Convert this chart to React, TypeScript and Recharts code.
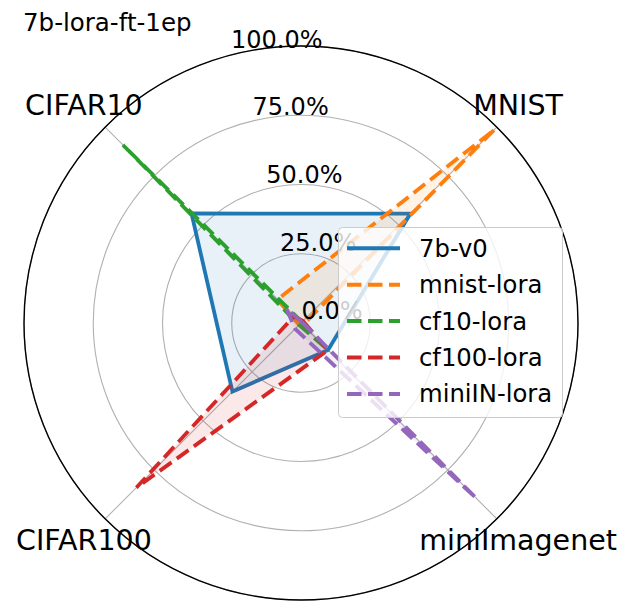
import React from 'react';
import { RadarChart, Radar, PolarGrid, PolarAngleAxis, PolarRadiusAxis, Legend } from 'recharts';

// clockwise from the upper-right spoke
const categories = ['MNIST', 'miniImagenet', 'CIFAR100', 'CIFAR10'];
const v0 = [55.8, 13.8, 35.0, 55.9];
const mnistLora = [98.5, 1.0, 1.0, 12.0];
const cf10Lora = [0.5, 13.8, 1.0, 90.9];
const cf100Lora = [1.0, 13.8, 84.0, 3.5];
const miniINLora = [0.5, 89.6, 3.0, 7.5];
const radiusTicks = [0, 25, 50, 75, 100];

const series = [
  { key: 'v0', name: '7b-v0', values: v0, color: '#1f77b4', dash: undefined as string | undefined },
  { key: 'mnist', name: 'mnist-lora', values: mnistLora, color: '#ff7f0e', dash: '14.5 6.5' },
  { key: 'cf10', name: 'cf10-lora', values: cf10Lora, color: '#2ca02c', dash: '14.5 6.5' },
  { key: 'cf100', name: 'cf100-lora', values: cf100Lora, color: '#d62728', dash: '14.5 6.5' },
  { key: 'miniIN', name: 'miniIN-lora', values: miniINLora, color: '#9467bd', dash: '14.5 6.5' },
];

const data = categories.map((name, i) => {
  const row: Record<string, string | number> = { name };
  series.forEach((s) => {
    row[s.key] = s.values[i];
  });
  return row;
});

const CX = 301;
const CY = 323;
const R = 277;
const FONT = 'DejaVu Sans';

const AngleTick = (props: any) => {
  const { x, y, payload } = props;
  const dx = x - CX;
  const dy = y - CY;
  const d = Math.hypot(dx, dy) || 1;
  return (
    <text
      x={CX + (dx / d) * 307}
      y={CY + (dy / d) * 307}
      textAnchor="middle"
      dominantBaseline="central"
      fontSize={28.5}
      fontFamily={FONT}
      fill="#000"
    >
      {payload.value}
    </text>
  );
};

const RadiusTick = (props: any) => {
  const { x, y, payload } = props;
  return (
    <text
      x={x + 31}
      y={y - 12}
      textAnchor="middle"
      dominantBaseline="central"
      fontSize={24}
      fontFamily={FONT}
      fill="#000"
    >
      {`${Number(payload.value).toFixed(1)}%`}
    </text>
  );
};

const LegendBox = () => (
  <svg width={225} height={191} style={{ display: 'block' }}>
    <rect x={0.5} y={0.5} width={224} height={190} rx={4} fill="#fff" fillOpacity={0.8} stroke="#cccccc" />
    {series.map((s, i) => {
      const y = 21.3 + i * 36.4;
      return (
        <g key={s.key}>
          <line x1={9} x2={62} y1={y} y2={y} stroke={s.color} strokeWidth={4} strokeDasharray={s.dash} />
          <text x={81} y={y} dominantBaseline="central" fontSize={24.3} fontFamily={FONT} fill="#000">
            {s.name}
          </text>
        </g>
      );
    })}
  </svg>
);

export default function App() {
  return (
    <div style={{ position: 'absolute', left: 0, top: 0, width: 634, height: 616, background: '#fff' }}>
      <div
        style={{
          position: 'absolute',
          left: 23,
          top: 10,
          fontFamily: FONT,
          fontSize: 24.5,
          lineHeight: '25px',
          color: '#000',
          whiteSpace: 'nowrap',
          zIndex: 2,
        }}
      >
        7b-lora-ft-1ep
      </div>
      <RadarChart
        width={634}
        height={616}
        data={data}
        cx={CX}
        cy={CY}
        outerRadius={R}
        startAngle={45}
        endAngle={-315}
        margin={{ top: 0, right: 0, bottom: 0, left: 0 }}
      >
        <PolarGrid gridType="circle" stroke="#b0b0b0" strokeWidth={1.1} />
        <PolarAngleAxis
          dataKey="name"
          axisLineType="circle"
          axisLine={{ stroke: '#000', strokeWidth: 1.4 }}
          tickLine={false}
          tick={AngleTick}
        />
        <PolarRadiusAxis
          angle={101.5}
          domain={[0, 100]}
          ticks={radiusTicks as any}
          tickCount={5}
          axisLine={false}
          tick={RadiusTick}
        />
        {series.map((s) => (
          <Radar
            key={s.key}
            name={s.name}
            dataKey={s.key}
            stroke={s.color}
            strokeWidth={3.8}
            strokeDasharray={s.dash}
            fill={s.color}
            fillOpacity={0.1}
            dot={false}
            isAnimationActive={false}
          />
        ))}
        <Legend
          layout="vertical"
          align="center"
          verticalAlign="middle"
          wrapperStyle={{ left: 338, top: 227, width: 225, height: 191 }}
          content={() => <LegendBox />}
        />
      </RadarChart>
    </div>
  );
}
